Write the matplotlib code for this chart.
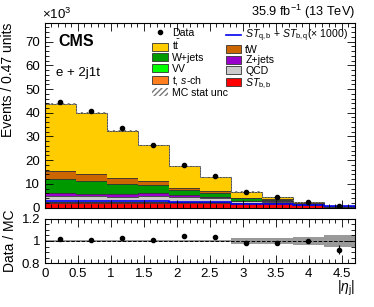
import numpy as np
import matplotlib.pyplot as plt
from matplotlib.patches import Patch
from matplotlib.lines import Line2D
from matplotlib.ticker import MultipleLocator

plt.rcParams['font.family'] = ['Liberation Sans', 'DejaVu Sans']
plt.rcParams['mathtext.fontset'] = 'custom'
plt.rcParams['mathtext.rm'] = 'Liberation Sans'
plt.rcParams['mathtext.it'] = 'Liberation Sans:italic'

# binning in |eta_j|
edges = np.linspace(0, 4.7, 11)

# event yields in units of 10^3
data = [44.7, 40.6, 33.4, 26.4, 18.1, 13.3, 6.6, 4.4, 2.4, 0.6]
st_bb = [2.0, 2.0, 2.0, 2.1, 2.0, 2.1, 1.9, 1.8, 0.9, 0.3]
t_sch = [0.2, 0.2, 0.2, 0.2, 0.2, 0.2, 0.1, 0.1, 0.05, 0.02]
vv = [0.1, 0.1, 0.1, 0.1, 0.1, 0.1, 0.05, 0.05, 0.03, 0.01]
qcd = [2.6, 2.5, 2.3, 2.3, 2.0, 1.6, 0.6, 0.4, 0.2, 0.05]
zjets = [1.3, 1.1, 1.1, 1.3, 0.8, 0.5, 0.3, 0.2, 0.1, 0.02]
wjets = [5.7, 5.4, 4.3, 3.6, 2.5, 1.8, 0.9, 0.6, 0.3, 0.05]
tw = [3.5, 2.8, 2.3, 1.6, 0.8, 0.7, 0.35, 0.25, 0.15, 0.03]
ttbar = [28.4, 26.0, 20.1, 15.0, 9.0, 5.8, 2.5, 1.1, 0.67, 0.17]
signal = [2.7, 2.7, 2.6, 2.6, 2.5, 2.5, 1.5, 1.3, 0.9, 0.6]
mc_unc_rel = [0.008, 0.008, 0.008, 0.008, 0.008, 0.01, 0.026, 0.026, 0.038, 0.054]

stack = [
    (st_bb, '#ff0000', r'$ST_{\rm b,b}$'),
    (t_sch, '#ff7f1f', r't, $s$-ch'),
    (vv, '#00ff00', 'VV'),
    (qcd, '#cccccc', 'QCD'),
    (zjets, '#9900cc', 'Z+jets'),
    (wjets, '#009900', 'W+jets'),
    (tw, '#cc6600', 'tW'),
    (ttbar, '#ffcc00', r't$\bar{\rm t}$'),
]

fig = plt.figure(figsize=(3.74, 3.07), dpi=100)
ax = fig.add_axes([0.120, 0.324, 0.829, 0.602])
rax = fig.add_axes([0.120, 0.142, 0.829, 0.146])

base = np.zeros(10)
handles = {}
for vals, col, lab in stack:
    top = base + np.array(vals)
    ax.stairs(top, edges, baseline=base, fill=True, color=col, lw=0)
    ax.stairs(top, edges, color='#333333', lw=0.6)
    handles[lab] = Patch(facecolor=col, edgecolor='#333333', lw=0.6)
    base = top
mc = base

# MC stat unc hatch
unc = mc * np.array(mc_unc_rel)
ax.stairs(mc + unc, edges, baseline=mc - unc, fill=True, facecolor='none',
          edgecolor='#777777', hatch='//////', lw=0)
ax.stairs(mc, edges, color='#888888', lw=0.8, ls=':')

ax.stairs(signal, edges, color='#0000ee', lw=1.2)

centers = 0.5 * (edges[1:] + edges[:-1])
data = np.array(data)
derr = np.sqrt(data * 1000) / 1000
ax.errorbar(centers, data, yerr=derr, fmt='o', color='black', ms=3, lw=0.8)

ax.set_xlim(0, 4.7)
ax.set_ylim(0, 78)
ax.set_xticklabels([])
ax.yaxis.set_major_locator(MultipleLocator(10))
ax.yaxis.set_minor_locator(MultipleLocator(2))
ax.xaxis.set_major_locator(MultipleLocator(0.5))
ax.xaxis.set_minor_locator(MultipleLocator(0.1))
ax.set_ylabel('Events / 0.47 units', fontsize=10, loc='top')
ax.text(-0.01, 1.005, r'$\times10^{3}$', transform=ax.transAxes, fontsize=9.5,
        ha='left', va='bottom')
ax.text(1.0, 1.01, r'35.9 fb$^{-1}$ (13 TeV)', transform=ax.transAxes,
        fontsize=9.2, ha='right', va='bottom')
ax.text(0.045, 0.90, 'CMS', transform=ax.transAxes, fontsize=11.5,
        fontweight='bold', va='center')
ax.text(0.035, 0.73, 'e + 2j1t', transform=ax.transAxes, fontsize=9.5,
        va='center')

col1_h = [
    Line2D([], [], marker='o', color='black', ls='none', ms=3),
    handles[r't$\bar{\rm t}$'], handles['W+jets'], handles['VV'],
    handles[r't, $s$-ch'],
    Patch(facecolor='white', edgecolor='#777777', hatch='//////', lw=0),
]
col1_l = ['Data', r't$\bar{\rm t}$', 'W+jets', 'VV', r't, $s$-ch',
          'MC stat unc']
col2_h = [
    Line2D([], [], color='#0000ee', lw=1.2),
    handles['tW'], handles['Z+jets'], handles['QCD'],
    handles[r'$ST_{\rm b,b}$'],
]
col2_l = [r'$ST_{\rm q,b}$ + $ST_{\rm b,q}$(× 1000)', 'tW', 'Z+jets', 'QCD',
          r'$ST_{\rm b,b}$']
leg_kw = dict(fontsize=7.6, frameon=False, loc='upper left',
              handlelength=1.5, handleheight=0.8, labelspacing=0.05,
              handletextpad=0.35, borderaxespad=0.0, borderpad=0.0)
leg1 = ax.legend(col1_h, col1_l, bbox_to_anchor=(0.347, 0.972), **leg_kw)
ax.add_artist(leg1)
ax.legend(col2_h, col2_l, bbox_to_anchor=(0.583, 0.972), **leg_kw)

# ratio panel
ratio = data / mc
rerr = derr / mc
rel = np.array(mc_unc_rel)
rax.stairs(1 + rel, edges, baseline=1 - rel, fill=True, color='#999999', lw=0)
rax.axhline(1, color='black', ls='--', lw=0.7)
rax.errorbar(centers, ratio, yerr=rerr, fmt='o', color='black', ms=3, lw=0.8)
rax.set_xlim(0, 4.7)
rax.set_ylim(0.8, 1.2)
rax.set_yticks([0.8, 1.0, 1.2])
rax.set_yticklabels(['0.8', '1', '1.2'])
rax.yaxis.set_minor_locator(MultipleLocator(0.05))
rax.xaxis.set_minor_locator(MultipleLocator(0.1))
rax.set_xticks(np.arange(0, 4.51, 0.5))
rax.set_xticklabels(['0', '0.5', '1', '1.5', '2', '2.5', '3', '3.5', '4', '4.5'])
rax.set_ylabel('Data / MC', fontsize=10)
rax.set_xlabel(r'|$\eta_{\rm j}$|', fontsize=10, loc='right', labelpad=-1)

for a in (ax, rax):
    a.tick_params(which='both', direction='in', top=True, right=True,
                  labelsize=9.5, width=0.6)
    a.tick_params(which='major', length=6)
    a.tick_params(which='minor', length=3)
    for s in a.spines.values():
        s.set_linewidth(0.8)
ax.yaxis.set_label_coords(-0.095, 1.0)
rax.yaxis.set_label_coords(-0.09, 0.5)

fig.savefig('out.png', dpi=100)
